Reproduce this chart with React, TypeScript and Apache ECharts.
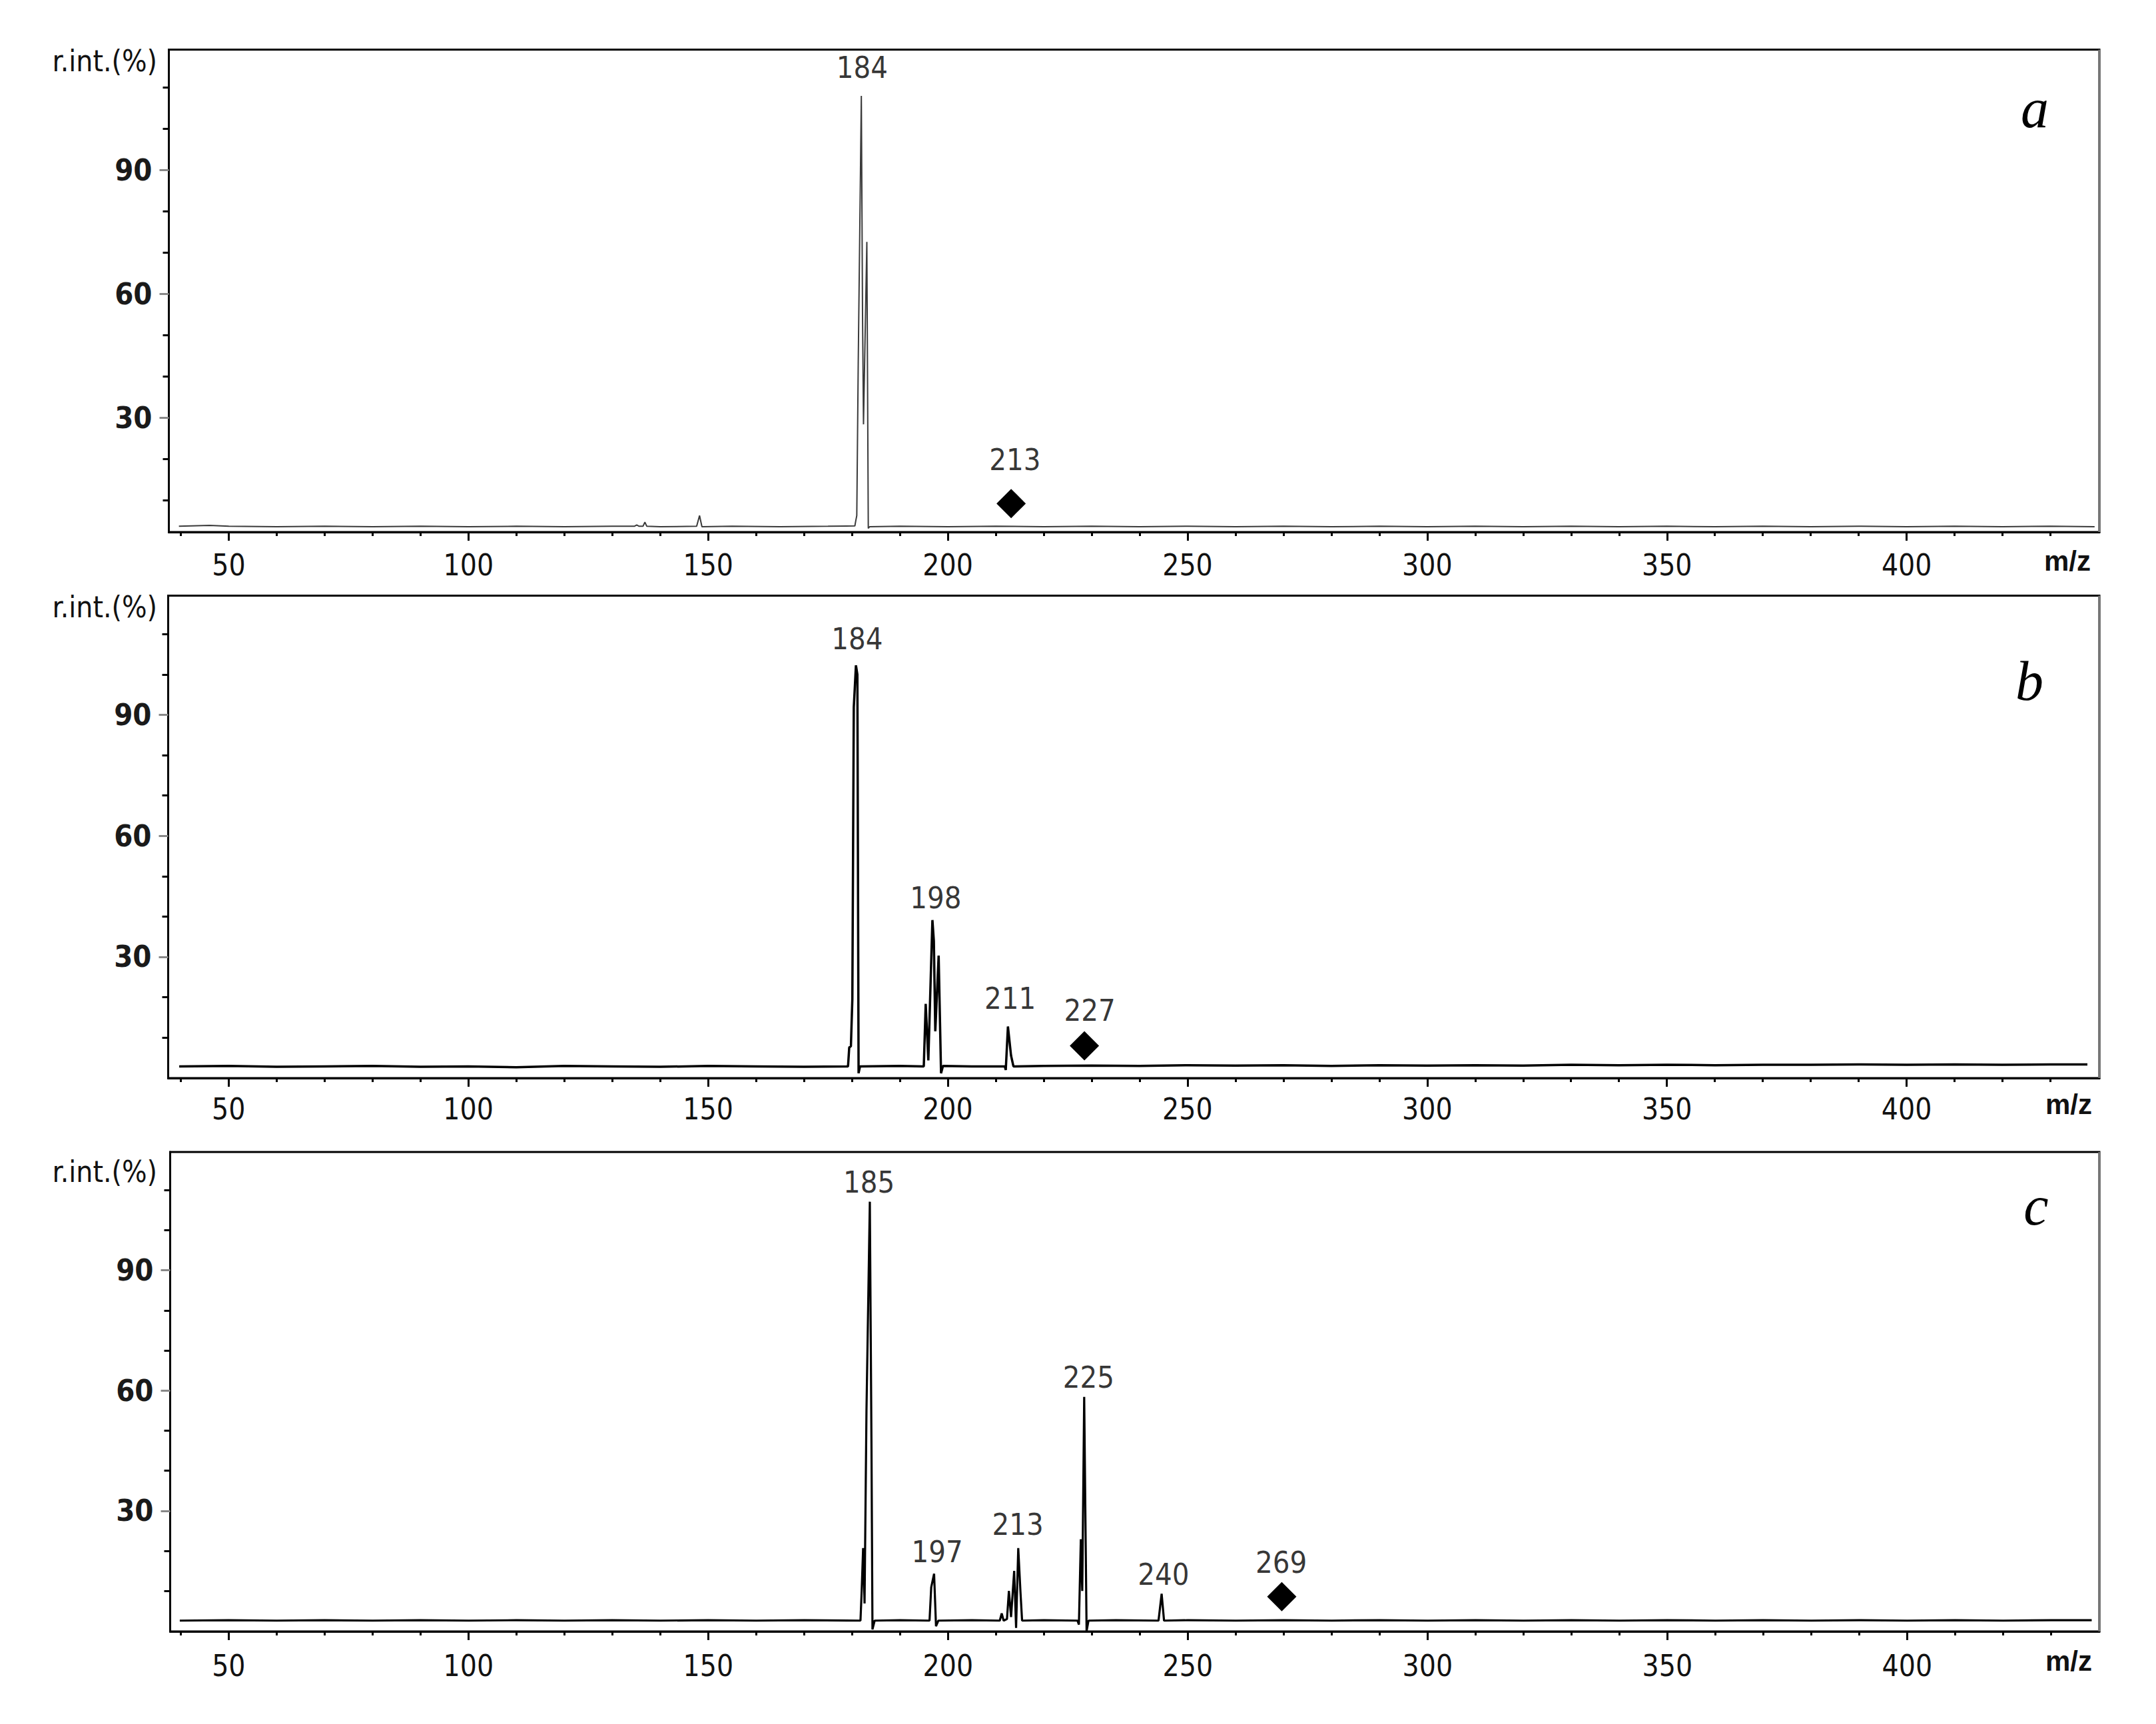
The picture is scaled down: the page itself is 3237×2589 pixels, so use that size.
import React, { useEffect, useRef } from "react";
import * as echarts from "echarts";

// ---------------- data ----------------
// Spectrum a
const mzA = [
  39.6, 46, 50, 60, 70, 80, 90, 100, 110, 120,
  130, 134.6, 135.1, 135.6, 136.4, 136.8, 137.2, 140, 147.6, 148.2,
  148.7, 155, 165, 175, 180.6, 180.8, 181.0, 181.3, 181.95, 182.2,
  182.4, 183.1, 183.4, 183.7, 190, 200, 210, 220, 230, 240,
  250, 260, 270, 280, 290, 300, 310, 320, 330, 340,
  350, 360, 370, 380, 390, 400, 410, 420, 430, 439.2,
];
const intA = [
  3.7, 3.9, 3.7, 3.6, 3.7, 3.6, 3.7, 3.6, 3.7, 3.6,
  3.7, 3.7, 4.0, 3.7, 3.7, 4.7, 3.7, 3.6, 3.7, 6.3,
  3.6, 3.7, 3.6, 3.7, 3.8, 5.1, 6.3, 43, 108, 55,
  28.4, 72.6, 3.2, 3.6, 3.7, 3.6, 3.7, 3.6, 3.7, 3.6,
  3.7, 3.6, 3.7, 3.6, 3.7, 3.6, 3.7, 3.6, 3.7, 3.6,
  3.7, 3.6, 3.7, 3.6, 3.7, 3.6, 3.7, 3.6, 3.7, 3.6,
];
const peakNamesA = ["184", "213"];
const peakLabelMzA = [182.1, 214.0];
const peakLabelIntA = [114.9, 19.8];
const markerMzA = [213.2];
const markerIntA = [9.2];

// Spectrum b
const mzB = [
  39.7, 50, 60, 70, 80, 90, 100, 110, 120, 130,
  140, 150, 160, 170, 179.2, 179.45, 179.8, 180.1, 180.4, 180.85,
  181.15, 181.4, 181.7, 190, 195.0, 195.4, 195.95, 196.8, 197.1, 197.4,
  198.1, 198.6, 199.0, 205, 211.9, 212.1, 212.55, 213.2, 213.7, 220,
  230, 240, 250, 260, 270, 280, 290, 300, 310, 320,
  330, 340, 350, 360, 370, 380, 390, 400, 410, 420,
  430, 437.7,
];
const intB = [
  2.8, 2.9, 2.7, 2.8, 2.9, 2.7, 2.8, 2.6, 2.9, 2.8,
  2.7, 2.9, 2.8, 2.7, 2.8, 7.5, 7.8, 19.5, 91.9, 102.3,
  100, 1.1, 2.8, 2.9, 2.8, 18.3, 4.3, 39.1, 33.9, 11.5,
  30.3, 1.1, 2.9, 2.8, 2.8, 1.9, 12.7, 5.5, 2.8, 2.9,
  3.0, 2.9, 3.1, 3.0, 3.1, 2.9, 3.1, 3.0, 3.1, 3.0,
  3.2, 3.1, 3.2, 3.1, 3.2, 3.2, 3.3, 3.2, 3.3, 3.2,
  3.3, 3.3,
];
const peakNamesB = ["184", "198", "211", "227"];
const peakLabelMzB = [181.1, 197.5, 213.0, 229.6];
const peakLabelIntB = [108.9, 44.6, 19.6, 16.6];
const markerMzB = [228.5];
const markerIntB = [7.9];

// Spectrum c
const mzC = [
  39.8, 50, 60, 70, 80, 90, 100, 110, 120, 130,
  140, 150, 160, 170, 181.75, 182.0, 182.3, 182.6, 183.0, 183.7,
  184.05, 184.25, 184.7, 190, 196.15, 196.5, 197.1, 197.5, 198.0, 205,
  210.8, 211.2, 211.6, 212.3, 212.7, 213.15, 213.8, 214.2, 214.65, 215.1,
  215.45, 220, 227.0, 227.3, 227.7, 228.0, 228.4, 228.9, 229.3, 235,
  243.9, 244.55, 245.05, 250, 260, 270, 280, 290, 300, 310,
  320, 330, 340, 350, 360, 370, 380, 390, 400, 410,
  420, 430, 438.5,
];
const intC = [
  2.6, 2.7, 2.6, 2.7, 2.6, 2.7, 2.6, 2.7, 2.6, 2.7,
  2.6, 2.7, 2.6, 2.7, 2.6, 10, 20.7, 6.9, 55, 107.1,
  45, 0.4, 2.6, 2.7, 2.6, 10.9, 14.3, 1.2, 2.6, 2.7,
  2.6, 4.4, 2.6, 3.0, 10, 3.5, 15, 0.8, 20.7, 10,
  2.6, 2.7, 2.6, 1.6, 22.9, 10, 58.4, 0, 2.6, 2.7,
  2.6, 9.3, 2.6, 2.7, 2.6, 2.7, 2.6, 2.7, 2.6, 2.7,
  2.6, 2.7, 2.6, 2.7, 2.6, 2.7, 2.6, 2.7, 2.6, 2.7,
  2.6, 2.7, 2.7,
];
const peakNamesC = ["185", "197", "213", "225", "240", "269"];
const peakLabelMzC = [183.5, 197.75, 214.55, 229.3, 244.95, 269.5];
const peakLabelIntC = [111.9, 19.7, 26.6, 63.2, 14.1, 17.1];
const markerMzC = [269.6];
const markerIntC = [8.6];

// Tick values
const X_MAJOR = [50, 100, 150, 200, 250, 300, 350, 400];
const X_MINOR = [
  40, 60, 70, 80, 90, 110, 120, 130, 140, 160, 170, 180, 190, 210, 220, 230,
  240, 260, 270, 280, 290, 310, 320, 330, 340, 360, 370, 380, 390, 410, 420, 430,
];
const Y_MAJOR = [30, 60, 90];
const Y_MINOR = [10, 20, 40, 50, 70, 80, 100, 110];

const PANEL_LETTERS = ["a", "b", "c"];
const Y_TITLE = "r.int.(%)";
const X_TITLE = "m/z";

// ---------------- layout / style ----------------
const FONT = "'DejaVu Sans Condensed', 'Liberation Sans', sans-serif";

const PANELS = [
  {
    grid: { left: 253.5, top: 74.5, width: 2898.5, height: 724.5 },
    xMin: 37.5, xMax: 440.2, yMin: 2.3, yMax: 119.2,
    mz: mzA, it: intA,
    names: peakNamesA, lmz: peakLabelMzA, lit: peakLabelIntA,
    mmz: markerMzA, mit: markerIntA,
    lineWidth: 2, lineColor: "#3a3a3a", xLabelMargin: 27,
    yTitle: { x: 236, y: 91 }, xTitle: { x: 3139, y: 842 }, letter: { x: 3055, y: 162 },
  },
  {
    grid: { left: 252.5, top: 894.5, width: 2899.5, height: 724.5 },
    xMin: 37.4, xMax: 440.2, yMin: -0.1, yMax: 119.6,
    mz: mzB, it: intB,
    names: peakNamesB, lmz: peakLabelMzB, lit: peakLabelIntB,
    mmz: markerMzB, mit: markerIntB,
    lineWidth: 3.5, lineColor: "#000", xLabelMargin: 24,
    yTitle: { x: 236, y: 911 }, xTitle: { x: 3141, y: 1658 }, letter: { x: 3047, y: 1022 },
  },
  {
    grid: { left: 255.5, top: 1730, width: 2896.5, height: 720 },
    xMin: 37.8, xMax: 440.1, yMin: -0.1, yMax: 119.5,
    mz: mzC, it: intC,
    names: peakNamesC, lmz: peakLabelMzC, lit: peakLabelIntC,
    mmz: markerMzC, mit: markerIntC,
    lineWidth: 3.2, lineColor: "#000", xLabelMargin: 29,
    yTitle: { x: 236, y: 1759 }, xTitle: { x: 3141, y: 2494 }, letter: { x: 3057, y: 1810 },
  },
];

function buildOption() {
  const grid: any[] = [];
  const xAxis: any[] = [];
  const yAxis: any[] = [];
  const series: any[] = [];
  const graphic: any[] = [];

  PANELS.forEach((p, i) => {
    grid.push({
      ...p.grid,
      show: true,
      borderColor: "#000",
      borderWidth: 3,
      backgroundColor: "transparent",
      containLabel: false,
    });
    // major x axis
    xAxis.push({
      type: "value",
      gridIndex: i,
      min: p.xMin,
      max: p.xMax,
      position: "bottom",
      axisLine: { show: true, onZero: false, lineStyle: { color: "#000", width: 3 } },
      axisTick: { show: true, customValues: X_MAJOR, length: 13, lineStyle: { color: "#000", width: 3 } },
      axisLabel: {
        show: true,
        customValues: X_MAJOR,
        margin: p.xLabelMargin,
        fontFamily: FONT,
        fontSize: 44,
        color: "#111",
      },
      splitLine: { show: false },
    });
    // minor x axis
    xAxis.push({
      type: "value",
      gridIndex: i,
      min: p.xMin,
      max: p.xMax,
      position: "bottom",
      axisLine: { show: false, onZero: false },
      axisTick: { show: true, customValues: X_MINOR, length: 6, lineStyle: { color: "#000", width: 3 } },
      axisLabel: { show: false },
      splitLine: { show: false },
    });
    // major y axis
    yAxis.push({
      type: "value",
      gridIndex: i,
      min: p.yMin,
      max: p.yMax,
      position: "left",
      axisLine: { show: true, onZero: false, lineStyle: { color: "#000", width: 3 } },
      axisTick: { show: true, customValues: Y_MAJOR, length: 14, lineStyle: { color: "#888", width: 3 } },
      axisLabel: {
        show: true,
        customValues: Y_MAJOR,
        margin: 25,
        fontFamily: FONT,
        fontSize: 45,
        fontWeight: "bold",
        color: "#1a1a1a",
      },
      splitLine: { show: false },
    });
    // minor y axis
    yAxis.push({
      type: "value",
      gridIndex: i,
      min: p.yMin,
      max: p.yMax,
      position: "left",
      axisLine: { show: false, onZero: false },
      axisTick: { show: true, customValues: Y_MINOR, length: 9, lineStyle: { color: "#000", width: 3 } },
      axisLabel: { show: false },
      splitLine: { show: false },
    });

    const n = Math.min(p.mz.length, p.it.length);
    const lineData: number[][] = [];
    for (let k = 0; k < n; k++) lineData.push([p.mz[k], p.it[k]]);

    series.push({
      type: "line",
      name: "spectrum " + PANEL_LETTERS[i],
      xAxisIndex: 2 * i,
      yAxisIndex: 2 * i,
      data: lineData,
      showSymbol: false,
      symbol: "none",
      smooth: false,
      lineStyle: { color: p.lineColor, width: p.lineWidth, opacity: 1 },
      silent: true,
      z: 3,
    });

    series.push({
      type: "scatter",
      name: "peak labels " + PANEL_LETTERS[i],
      xAxisIndex: 2 * i,
      yAxisIndex: 2 * i,
      symbolSize: 0,
      itemStyle: { color: "transparent" },
      silent: true,
      data: p.names.map((nm, k) => ({ name: nm, value: [p.lmz[k], p.lit[k]] })),
      label: {
        show: true,
        position: "inside",
        formatter: "{b}",
        fontFamily: FONT,
        fontSize: 45,
        color: "#000",
      },
      z: 5,
    });

    series.push({
      type: "scatter",
      name: "marker " + PANEL_LETTERS[i],
      xAxisIndex: 2 * i,
      yAxisIndex: 2 * i,
      symbol: "diamond",
      symbolSize: 44,
      itemStyle: { color: "#000", opacity: 1 },
      silent: true,
      data: p.mmz.map((m, k) => [m, p.mit[k]]),
      z: 4,
    });

    // grey right edge of the frame, as in the reference
    const rx = p.grid.left + p.grid.width;
    graphic.push({
      type: "line",
      shape: { x1: rx, y1: p.grid.top, x2: rx, y2: p.grid.top + p.grid.height },
      style: { stroke: "#777", lineWidth: 3.5 },
      z: 10,
    });

    graphic.push({
      type: "text",
      x: p.yTitle.x,
      y: p.yTitle.y,
      style: {
        text: Y_TITLE,
        font: `44px ${FONT}`,
        fill: "#111",
        align: "right",
        textAlign: "right",
        verticalAlign: "middle",
        textVerticalAlign: "middle",
      },
    });
    graphic.push({
      type: "text",
      x: p.xTitle.x,
      y: p.xTitle.y,
      style: {
        text: X_TITLE,
        font: `bold 42px 'Liberation Sans', sans-serif`,
        fill: "#111",
        align: "right",
        textAlign: "right",
        verticalAlign: "middle",
        textVerticalAlign: "middle",
      },
    });
    graphic.push({
      type: "text",
      x: p.letter.x,
      y: p.letter.y,
      style: {
        text: PANEL_LETTERS[i],
        font: `italic 84px 'Liberation Serif', serif`,
        fill: "#000",
        align: "center",
        textAlign: "center",
        verticalAlign: "middle",
        textVerticalAlign: "middle",
      },
    });
  });

  return {
    animation: false,
    backgroundColor: "#fff",
    grid,
    xAxis,
    yAxis,
    series,
    graphic,
  };
}

export default function App() {
  const ref = useRef<HTMLDivElement>(null);
  useEffect(() => {
    if (!ref.current) return;
    const chart = echarts.init(ref.current, null, { renderer: "svg" });
    chart.setOption(buildOption() as any);
    return () => chart.dispose();
  }, []);
  return (
    <div
      ref={ref}
      style={{ position: "fixed", left: 0, top: 0, width: 3237, height: 2589, background: "#fff" }}
    />
  );
}
